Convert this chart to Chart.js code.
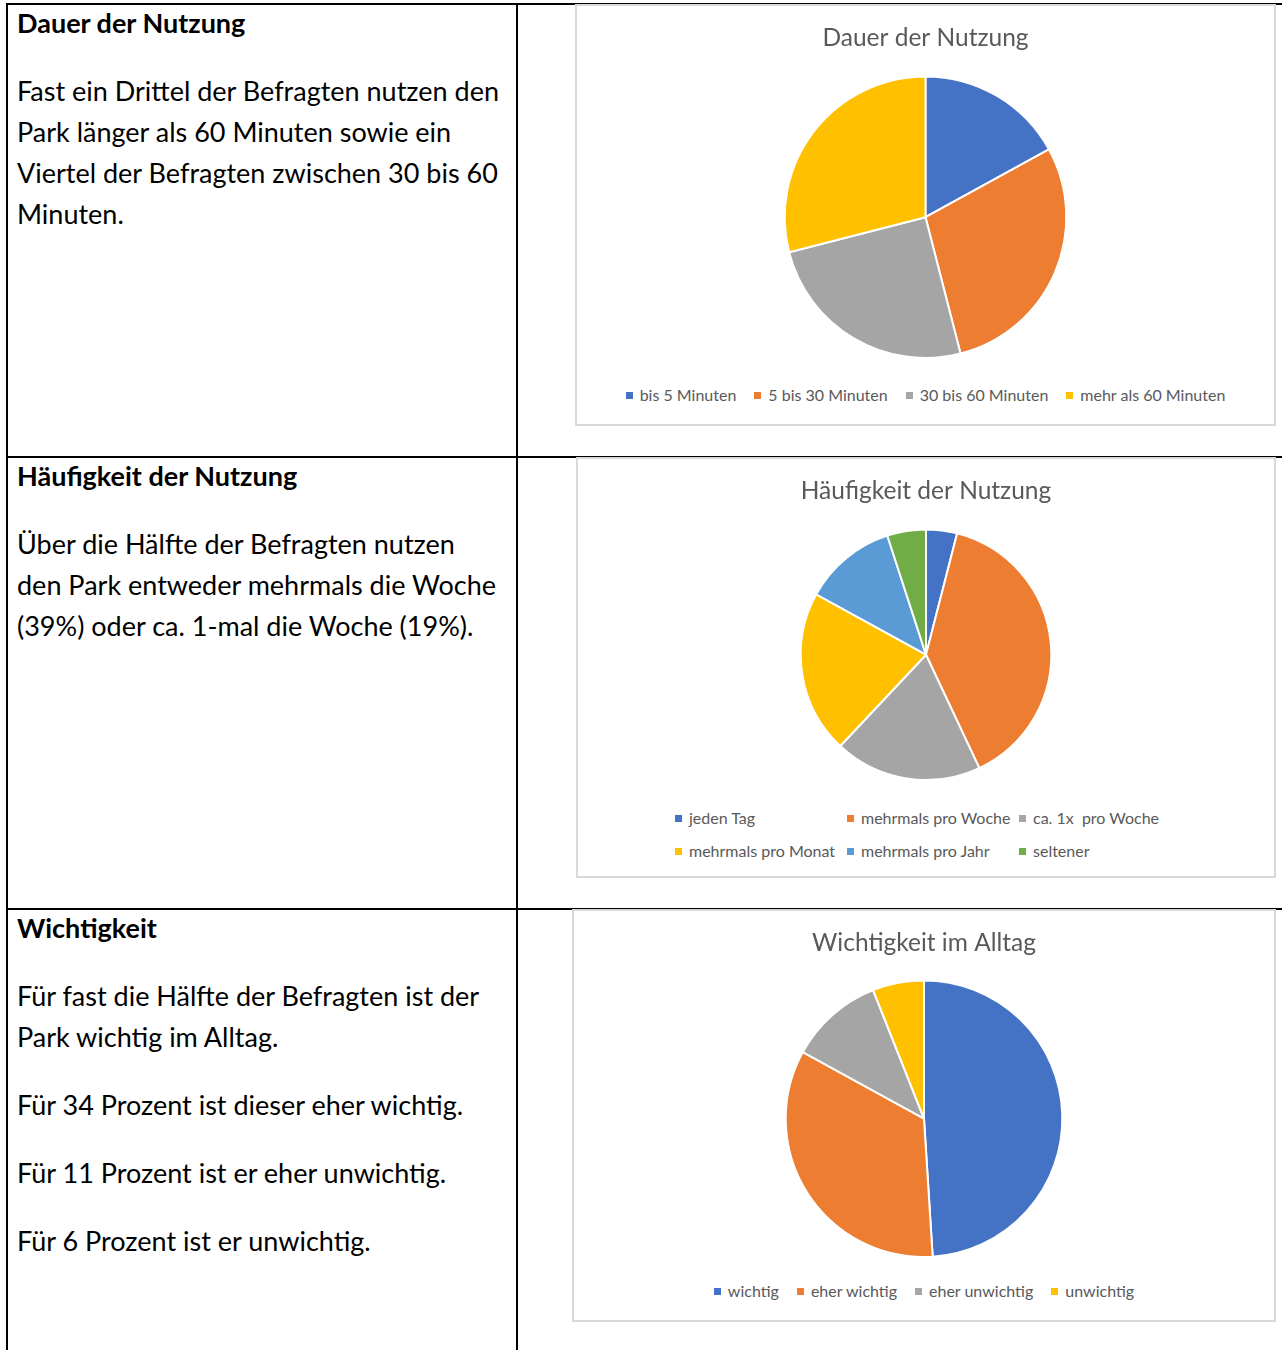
<!DOCTYPE html>
<html lang="de">
<head>
    <meta charset="UTF-8">
    <script src="https://cdn.jsdelivr.net/npm/chart.js"></script>
    <title>Nutzung des Parks</title>
    <style>
        html, body{
            margin:0;
            padding:0;
            background:#fff;
            overflow:hidden;
        }
        #tabelle{
            position:absolute;
            left:6px;
            top:3px;
            width:1300px;
            border-collapse:collapse;
            font-family:Lato, "Open Sans", sans-serif;
        }
        #tabelle td{
            border:2px solid #000;
            vertical-align:top;
            padding:0;
        }
        #tabelle td.text{
            width:490px;
            height:447px;
            padding:3px 9px 0 9px;
            color:#000;
            white-space:nowrap;
        }
        #tabelle td.erste{
            height:448px;
        }
        #tabelle h3{
            margin:0 0 32px 0;
            font-size:27px;
            font-weight:bold;
            line-height:30px;
        }
        #tabelle p{
            margin:0 0 27px 0;
            font-size:27px;
            line-height:41px;
        }
        .box{
            position:absolute;
            border:2px solid #d9d9d9;
            background:#fff;
        }
        .legend{
            position:absolute;
            left:0;
            right:0;
            font-family:Lato, "Open Sans", sans-serif;
            font-size:16px;
            color:#595959;
            line-height:20px;
        }
        .legend ul{
            list-style:none;
            margin:0;
            padding:0;
            display:flex;
            justify-content:center;
        }
        .legend li{
            display:flex;
            align-items:center;
            margin:0 9px;
            white-space:pre;
        }
        .legend li span{
            display:inline-block;
            width:7px;
            height:7px;
            margin-right:7px;
        }
        .legend.grid ul{
            display:grid;
            grid-template-columns:172px 172px 172px;
            justify-content:start;
            row-gap:13px;
            padding-left:97px;
        }
        .legend.grid li{
            margin:0;
        }
    </style>
</head>
<body>
    <table id="tabelle">
        <tr>
            <td class="text erste">
                <h3>Dauer der Nutzung</h3>
                <p>Fast ein Drittel der Befragten nutzen den<br>Park länger als 60 Minuten sowie ein<br>Viertel der Befragten zwischen 30 bis 60<br>Minuten.</p>
            </td>
            <td></td>
        </tr>
        <tr>
            <td class="text">
                <h3>Häufigkeit der Nutzung</h3>
                <p>Über die Hälfte der Befragten nutzen<br>den Park entweder mehrmals die Woche<br>(39%) oder ca. 1-mal die Woche (19%).</p>
            </td>
            <td></td>
        </tr>
        <tr>
            <td class="text">
                <h3>Wichtigkeit</h3>
                <p>Für fast die Hälfte der Befragten ist der<br>Park wichtig im Alltag.</p>
                <p>Für 34 Prozent ist dieser eher wichtig.</p>
                <p>Für 11 Prozent ist er eher unwichtig.</p>
                <p>Für 6 Prozent ist er unwichtig.</p>
            </td>
            <td></td>
        </tr>
    </table>

    <div class="box" style="left:575px; top:4px; width:697px; height:418px;">
        <div style="position:absolute; left:0; top:0; width:697px; height:353px;"><canvas id="chart1"></canvas></div>
        <div class="legend" id="legend1" style="top:379px;"></div>
    </div>
    <div class="box" style="left:576px; top:457px; width:696px; height:417px;">
        <div style="position:absolute; left:0; top:0; width:696px; height:322px;"><canvas id="chart2"></canvas></div>
        <div class="legend grid" id="legend2" style="top:349px;"></div>
    </div>
    <div class="box" style="left:572px; top:909px; width:700px; height:409px;">
        <div style="position:absolute; left:0; top:0; width:700px; height:347px;"><canvas id="chart3"></canvas></div>
        <div class="legend" id="legend3" style="top:370px;"></div>
    </div>

    <script>
        // Dauer der Nutzung (Prozent)
        let dauerLabels = ["bis 5 Minuten", "5 bis 30 Minuten", "30 bis 60 Minuten", "mehr als 60 Minuten"];
        let dauerWerte  = [17, 29, 25, 29];

        // Häufigkeit der Nutzung (Prozent)
        let haeufigLabels = ["jeden Tag", "mehrmals pro Woche", "ca. 1x  pro Woche", "mehrmals pro Monat", "mehrmals pro Jahr", "seltener"];
        let haeufigWerte  = [4, 39, 19, 21, 12, 5];

        // Wichtigkeit im Alltag (Prozent)
        let wichtigLabels = ["wichtig", "eher wichtig", "eher unwichtig", "unwichtig"];
        let wichtigWerte  = [49, 34, 11, 6];

        let farben = ["#4472C4", "#ED7D31", "#A5A5A5", "#FFC000", "#5B9BD5", "#70AD47"];

        // Legende als HTML, damit die Spalten wie im Original stehen
        const htmlLegend = {
            id: "htmlLegend",
            afterUpdate(chart, args, opts){
                let box = document.getElementById(opts.containerID);
                box.innerHTML = "";
                let ul = document.createElement("ul");
                let items = chart.options.plugins.legend.labels.generateLabels(chart);
                items.forEach(item=>{
                    let li = document.createElement("li");
                    let sq = document.createElement("span");
                    sq.style.background = item.fillStyle;
                    li.appendChild(sq);
                    li.appendChild(document.createTextNode(item.text));
                    ul.appendChild(li);
                });
                box.appendChild(ul);
            }
        };

        function makePie(id, legendId, title, labels, werte, titleTop, titleBottom){
            return new Chart(document.getElementById(id), {
                type: "pie",
                data: {
                    labels: labels,
                    datasets: [{
                        data: werte,
                        backgroundColor: farben.slice(0, werte.length),
                        borderColor: "#fff",
                        borderWidth: 2,
                    }]
                },
                options: {
                    responsive: true,
                    maintainAspectRatio: false,
                    animation: false,
                    layout: { padding: 0 },
                    plugins: {
                        title: {
                            display: true,
                            text: title,
                            color: "#595959",
                            font: { family: "Lato", size: 24.5, weight: "normal" },
                            padding: { top: titleTop, bottom: titleBottom },
                        },
                        legend: { display: false },
                        tooltip: { enabled: false },
                        htmlLegend: { containerID: legendId },
                    }
                },
                plugins: [htmlLegend]
            });
        }

        makePie("chart1", "legend1", "Dauer der Nutzung", dauerLabels, dauerWerte, 17, 23);
        makePie("chart2", "legend2", "Häufigkeit der Nutzung", haeufigLabels, haeufigWerte, 17, 23);
        makePie("chart3", "legend3", "Wichtigkeit im Alltag", wichtigLabels, wichtigWerte, 17, 22);
    </script>
</body>
</html>
